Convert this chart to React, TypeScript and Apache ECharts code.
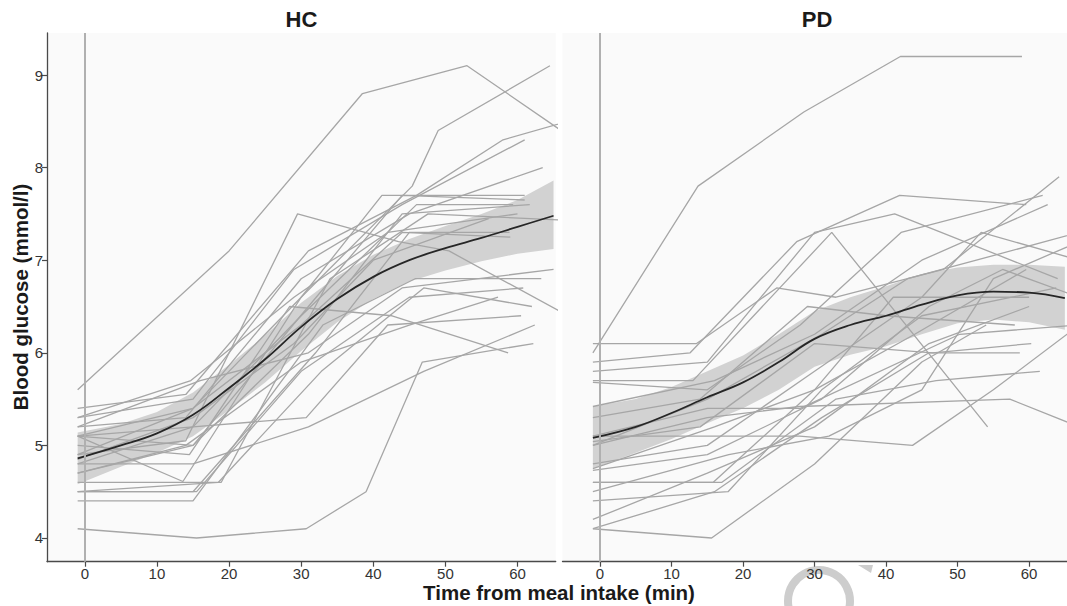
import React, { useEffect, useRef } from "react";
import * as echarts from "echarts";

const xTicks = [0, 10, 20, 30, 40, 50, 60];
const yTicks = [4, 5, 6, 7, 8, 9];
const panelTitles = ["HC", "PD"];
const xTitle = "Time from meal intake (min)";
const yTitle = "Blood glucose (mmol/l)";

// loess fit (mean) and confidence band
const smoothTimes = [-1, 5, 10, 15, 20, 25, 30, 35, 40, 45, 50, 55, 60, 65];
const hcMean = [4.86, 5.0, 5.13, 5.33, 5.62, 5.93, 6.28, 6.58, 6.82, 7.0, 7.13, 7.24, 7.36, 7.48];
const hcLower = [4.58, 4.77, 4.92, 5.1, 5.38, 5.68, 6.02, 6.33, 6.58, 6.77, 6.89, 6.99, 7.07, 7.12];
const hcUpper = [5.14, 5.23, 5.36, 5.57, 5.87, 6.19, 6.54, 6.83, 7.06, 7.23, 7.37, 7.5, 7.65, 7.86];
const pdMean = [5.08, 5.2, 5.35, 5.52, 5.68, 5.9, 6.15, 6.3, 6.4, 6.52, 6.62, 6.66, 6.65, 6.59];
const pdLower = [4.75, 4.92, 5.07, 5.24, 5.4, 5.6, 5.85, 5.98, 6.07, 6.2, 6.32, 6.36, 6.33, 6.25];
const pdUpper = [5.42, 5.5, 5.63, 5.8, 5.97, 6.2, 6.45, 6.6, 6.72, 6.85, 6.92, 6.95, 6.95, 6.93];

// individual subjects: [minute, glucose]
const hcSubjects = [
  [[-1, 5.6], [20, 7.1], [38.5, 8.8], [53, 9.1], [67, 8.35]],
  [[-1, 5.1], [15, 5.4], [30, 6.6], [45.4, 7.8], [49, 8.4], [64.5, 9.1]],
  [[-1, 5.4], [14, 5.55], [31, 7.1], [46, 7.7], [58, 8.3], [67, 8.5]],
  [[-1, 5.3], [15, 5.5], [29, 6.9], [44, 7.6], [61, 8.3]],
  [[-1, 5.2], [14, 5.3], [30, 6.8], [45, 7.5], [63.5, 8.0]],
  [[-1, 4.9], [14, 5.05], [29.5, 7.5], [43.5, 7.2], [50.5, 7.1], [67, 6.4]],
  [[-1, 5.1], [13.6, 4.61], [30, 6.6], [41.2, 7.7], [61, 7.7]],
  [[-1, 4.8], [15, 5.2], [30, 6.4], [46, 7.6], [59.4, 7.6]],
  [[-1, 4.7], [15, 5.0], [31, 6.2], [44, 7.5], [61.7, 7.6]],
  [[-1, 4.5], [15, 4.5], [32, 6.0], [45, 7.3], [58.9, 7.3]],
  [[-1, 4.6], [18.9, 4.6], [34, 6.8], [47.6, 7.5], [67, 7.43]],
  [[-1, 4.4], [15, 4.4], [33, 6.3], [45.8, 6.8], [63.3, 6.8]],
  [[-1, 4.5], [15.5, 4.5], [30, 5.8], [45, 6.6], [60.8, 6.7]],
  [[-1, 5.0], [14.5, 4.9], [28.4, 6.5], [42.6, 6.4], [58.7, 6.0]],
  [[-1, 4.1], [15.5, 4.0], [30.7, 4.1], [39, 4.5], [46.8, 5.9], [62.2, 6.1]],
  [[-1, 4.8], [15, 4.8], [31, 5.2], [47, 5.8], [62.4, 6.3]],
  [[-1, 5.1], [15, 5.2], [30.7, 5.3], [42, 6.3], [60.5, 6.4]],
  [[-1, 4.7], [14, 5.0], [30, 5.9], [45, 6.3], [57.3, 6.6]],
  [[-1, 5.2], [16, 5.7], [31, 6.0], [44, 6.7], [65, 6.9]],
  [[-1, 4.5], [18.5, 4.6], [32.8, 5.8], [47, 6.7], [62, 6.5]],
  [[-1, 5.3], [14.7, 5.7], [29, 6.6], [42, 7.3], [60, 7.5]],
  [[-1, 4.9], [15, 5.4], [30, 6.3], [44, 7.3], [59, 7.25]],
  [[-1, 5.1], [15, 5.0], [31, 6.5], [44, 7.7], [61, 7.65]],
  [[-1, 4.85], [15, 5.3], [29, 6.1], [40, 7.0], [56, 7.45]],
];

const pdSubjects = [
  [[-1, 6.0], [13.7, 7.8], [28.5, 8.6], [42, 9.2], [59, 9.2]],
  [[-1, 6.1], [13.5, 6.1], [24.7, 6.7], [33, 6.6], [48, 6.9], [64.2, 7.9]],
  [[-1, 5.9], [12.6, 6.0], [27.5, 7.2], [41.9, 7.7], [59.6, 7.6]],
  [[-1, 5.8], [15, 5.9], [30, 7.3], [41.2, 7.5], [64, 6.8]],
  [[-1, 5.7], [13, 5.7], [32.4, 7.3], [54.2, 5.2]],
  [[-1, 5.68], [15, 5.6], [28, 6.3], [42.1, 7.3], [61.9, 7.7]],
  [[-1, 5.42], [16, 5.7], [30, 6.2], [45, 7.0], [62.6, 7.6]],
  [[-1, 5.1], [15, 5.1], [27.9, 5.1], [43.7, 5.0], [55, 5.6], [67, 6.3]],
  [[-1, 5.0], [15, 5.3], [27.9, 5.42], [57.3, 5.5], [67, 5.2]],
  [[-1, 5.04], [14, 5.2], [30, 6.1], [46.5, 6.0], [60.3, 6.1]],
  [[-1, 4.8], [15, 5.0], [30, 5.8], [45, 6.6], [53.3, 7.3], [67, 7.0]],
  [[-1, 4.73], [15, 4.9], [31, 5.5], [46, 6.5], [56.3, 6.9], [67, 6.6]],
  [[-1, 4.6], [15.8, 4.6], [30, 5.6], [44, 6.2], [59.6, 6.9]],
  [[-1, 4.4], [17.9, 4.5], [31, 5.6], [45, 6.4], [63.8, 6.7]],
  [[-1, 4.2], [15, 4.7], [30, 5.2], [46, 6.1], [60, 6.5]],
  [[-1, 4.1], [15.6, 4.0], [30, 4.8], [45, 5.9], [54, 6.3]],
  [[-1, 4.1], [16, 4.5], [31, 5.3], [46, 6.0], [58.7, 6.0]],
  [[-1, 4.6], [17, 4.6], [33, 5.5], [47, 5.7], [61.5, 5.8]],
  [[-1, 5.1], [15, 5.4], [28, 5.4], [50.3, 6.2], [67, 6.3]],
  [[-1, 4.75], [16, 5.2], [30, 5.6], [41, 6.6], [60, 6.6]],
  [[-1, 5.0], [15, 5.5], [31, 6.2], [43, 6.8], [67, 7.3]],
  [[-1, 4.5], [18, 4.9], [32, 5.1], [45, 5.6], [55, 6.8], [67, 7.2]],
  [[-1, 5.3], [14, 5.5], [29, 6.5], [40, 6.4], [58, 6.3]],
];

const X_MIN = -5.25;
const X_MAX = 65.3;
const Y_MIN = 3.744;
const Y_MAX = 9.4536;
const FONT = '"Liberation Sans", Arial, Helvetica, sans-serif';
const AXIS_COLOR = "#4a4a4a";

function panelSeries(idx: number, subjects: number[][][], mean: number[], lower: number[], upper: number[]) {
  const out: any[] = [];
  const bandData = smoothTimes.map((t, i) => [t, lower[i], upper[i]]);
  out.push({
    type: "custom",
    xAxisIndex: idx,
    yAxisIndex: idx,
    data: bandData,
    silent: true,
    z: 1,
    encode: { x: 0, y: [1, 2] },
    renderItem: (params: any, api: any) => {
      if (params.dataIndex !== 0) return null;
      const top = bandData.map((d) => api.coord([d[0], d[2]]));
      const bottom = bandData.map((d) => api.coord([d[0], d[1]])).reverse();
      return {
        type: "polygon",
        shape: { points: top.concat(bottom) },
        style: { fill: "#d2d2d2", stroke: "none" },
      };
    },
    markLine: {
      silent: true,
      symbol: "none",
      label: { show: false },
      lineStyle: { color: "#b0b0b0", width: 2, type: "solid" },
      data: [{ xAxis: 0 }],
    },
  });
  subjects.forEach((s) => {
    out.push({
      type: "line",
      xAxisIndex: idx,
      yAxisIndex: idx,
      data: s,
      symbol: "none",
      silent: true,
      lineStyle: { color: "#a6a6a6", width: 1.3 },
      z: 2,
    });
  });
  out.push({
    type: "line",
    xAxisIndex: idx,
    yAxisIndex: idx,
    data: smoothTimes.map((t, i) => [t, mean[i]]),
    smooth: 0.4,
    symbol: "none",
    silent: true,
    lineStyle: { color: "#262626", width: 1.8 },
    z: 3,
  });
  return out;
}

function xAxisCfg(idx: number) {
  return {
    type: "value",
    gridIndex: idx,
    min: X_MIN,
    max: X_MAX,
    splitLine: { show: false },
    axisLine: { show: true, onZero: false, lineStyle: { color: AXIS_COLOR, width: 1.3 } },
    axisTick: { show: true, length: 5, customValues: xTicks, lineStyle: { color: AXIS_COLOR, width: 1.2 } },
    axisLabel: { customValues: xTicks, color: "#333", fontSize: 15, margin: 4, fontFamily: FONT },
  };
}

export default function App() {
  const ref = useRef<HTMLDivElement>(null);
  useEffect(() => {
    if (!ref.current) return;
    const chart = echarts.init(ref.current, undefined, { renderer: "svg" });
    const gridBase = { top: 33, width: 508.7, height: 528.7, show: true, backgroundColor: "#fafafa", borderWidth: 0 };
    chart.setOption({
      animation: false,
      backgroundColor: "#ffffff",
      grid: [
        { ...gridBase, left: 47 },
        { ...gridBase, left: 562.5 },
      ],
      xAxis: [xAxisCfg(0), xAxisCfg(1)],
      yAxis: [
        {
          type: "value",
          gridIndex: 0,
          min: Y_MIN,
          max: Y_MAX,
          splitLine: { show: false },
          axisLine: { show: true, onZero: false, lineStyle: { color: AXIS_COLOR, width: 1.3 } },
          axisTick: { show: true, length: 5, customValues: yTicks, lineStyle: { color: AXIS_COLOR, width: 1.2 } },
          axisLabel: { customValues: yTicks, color: "#333", fontSize: 15, margin: 4, fontFamily: FONT },
        },
        { type: "value", gridIndex: 1, min: Y_MIN, max: Y_MAX, show: false },
      ],
      series: [
        ...panelSeries(0, hcSubjects, hcMean, hcLower, hcUpper),
        ...panelSeries(1, pdSubjects, pdMean, pdLower, pdUpper),
      ],
      graphic: [
        {
          type: "text",
          x: 301.5,
          y: 19,
          style: { text: panelTitles[0], font: `bold 22px ${FONT}`, fill: "#1a1a1a", textAlign: "center", textVerticalAlign: "middle" },
        },
        {
          type: "text",
          x: 817,
          y: 19,
          style: { text: panelTitles[1], font: `bold 22px ${FONT}`, fill: "#1a1a1a", textAlign: "center", textVerticalAlign: "middle" },
        },
        {
          type: "text",
          x: 559,
          y: 592,
          style: { text: xTitle, font: `bold 20.5px ${FONT}`, fill: "#1a1a1a", textAlign: "center", textVerticalAlign: "middle" },
        },
        {
          type: "text",
          x: 20,
          y: 297,
          rotation: Math.PI / 2,
          style: { text: yTitle, font: `bold 20.5px ${FONT}`, fill: "#1a1a1a", textAlign: "center", textVerticalAlign: "middle" },
        },
        {
          type: "circle",
          shape: { cx: 819, cy: 601, r: 31 },
          style: { fill: "none", stroke: "#cdcdcd", lineWidth: 8 },
          z: -1,
        },
        {
          type: "polygon",
          shape: { points: [[858, 565], [873, 565], [871, 573]] },
          style: { fill: "#cdcdcd" },
          z: -1,
        },
      ],
    });
    return () => chart.dispose();
  }, []);
  return <div ref={ref} style={{ position: "absolute", left: 0, top: 0, width: 1067, height: 606 }} />;
}
